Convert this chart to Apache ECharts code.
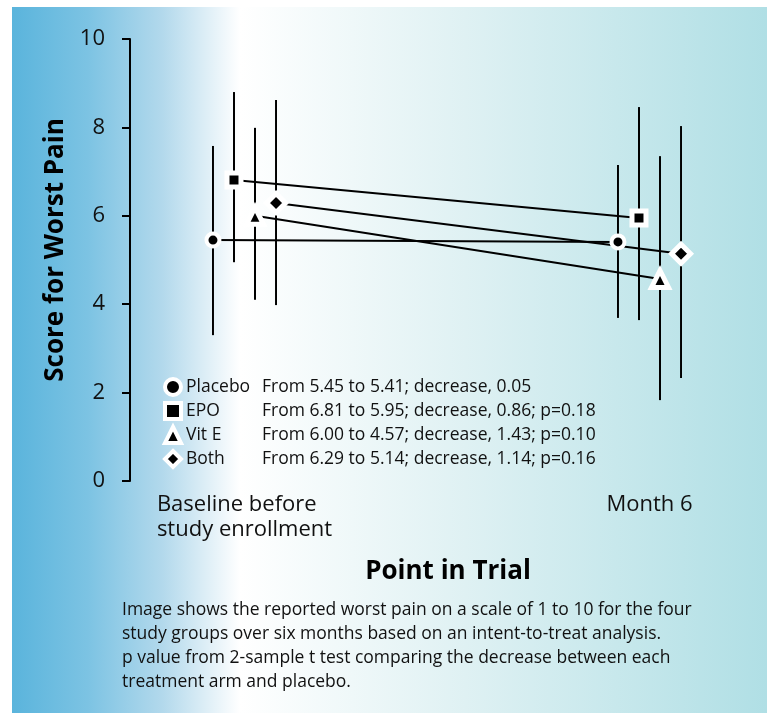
<!DOCTYPE html>
<html>
<head>
<meta charset="utf-8">
<script src="https://cdn.jsdelivr.net/npm/echarts@6/dist/echarts.min.js"></script>
<style>
html,body{margin:0;padding:0;background:#fff;}
#chart{width:767px;height:713px;}
</style>
</head>
<body>
<div id="chart"></div>
<script>
// ---- data ----
const groups = ['Placebo', 'EPO', 'Vit E', 'Both'];
const groupSymbols = ['circle', 'rect', 'triangle', 'diamond'];
const timepoints = ['Baseline before\nstudy enrollment', 'Month 6'];
const baselineMean = [5.45, 6.81, 6.00, 6.29];
const month6Mean = [5.41, 5.95, 4.57, 5.14];
const baselineLow = [3.30, 4.95, 4.10, 3.98];
const baselineHigh = [7.58, 8.80, 7.99, 8.62];
const month6Low = [3.69, 3.64, 1.83, 2.33];
const month6High = [7.15, 8.46, 7.35, 8.03];
const summaries = [
  'From 5.45 to 5.41; decrease, 0.05',
  'From 6.81 to 5.95; decrease, 0.86; p=0.18',
  'From 6.00 to 4.57; decrease, 1.43; p=0.10',
  'From 6.29 to 5.14; decrease, 1.14; p=0.16'
];
const yTicks = [0, 2, 4, 6, 8, 10];
const caption = [
  'Image shows the reported worst pain on a scale of 1 to 10 for the four',
  'study groups over six months based on an intent-to-treat analysis.',
  'p value from 2-sample t test comparing the decrease between each',
  'treatment arm and placebo.'
];

// ---- layout helpers ----
const FONT = '"Open Sans", "Noto Sans", sans-serif';
const TXT = '#111';
const timeX = [1, 2];
const dodge = 0.0519;
const offsets = [-1.5, -0.5, 0.5, 1.5].map(k => k * dodge);
const symbolSizes = [13, 14, 17, 19];
const borderWidths = [4, 5, 5, 5];

const chart = echarts.init(document.getElementById('chart'), null, {renderer: 'canvas'});

const lineSeries = groups.map((g, i) => ({
  name: g,
  type: 'line',
  z: 3,
  symbol: groupSymbols[i],
  symbolSize: symbolSizes[i],
  symbolKeepAspect: true,
  showAllSymbol: true,
  lineStyle: {color: '#000', width: 2},
  itemStyle: {color: '#000', borderColor: '#fff', borderWidth: borderWidths[i]},
  emphasis: {disabled: true},
  data: [
    [timeX[0] + offsets[i], baselineMean[i]],
    [timeX[1] + offsets[i], month6Mean[i]]
  ]
}));

const errData = [];
groups.forEach((g, i) => {
  errData.push([timeX[0] + offsets[i], baselineLow[i], baselineHigh[i]]);
  errData.push([timeX[1] + offsets[i], month6Low[i], month6High[i]]);
});

const errorSeries = {
  type: 'custom',
  z: 1,
  silent: true,
  data: errData,
  encode: {x: 0, y: [1, 2]},
  renderItem: function (params, api) {
    const x = api.value(0);
    const p1 = api.coord([x, api.value(1)]);
    const p2 = api.coord([x, api.value(2)]);
    return {
      type: 'line',
      shape: {x1: p1[0], y1: p1[1], x2: p2[0], y2: p2[1]},
      style: {stroke: '#000', lineWidth: 2}
    };
  }
};

const option = {
  animation: false,
  graphic: [
    {
      type: 'rect', z: -100, silent: true,
      shape: {x: 12, y: 7, width: 755, height: 706},
      style: {
        fill: new echarts.graphic.LinearGradient(0, 0, 1, 0, [
          {offset: 0, color: '#5ab4dc'},
          {offset: 0.10, color: '#7cc3e3'},
          {offset: 0.20, color: '#b3d9ec'},
          {offset: 0.302, color: '#ffffff'},
          {offset: 0.60, color: '#dff1f3'},
          {offset: 1, color: '#b0dfe5'}
        ])
      }
    },
    {
      type: 'text', left: 122, top: 598, silent: true,
      style: {
        text: caption.join('\n'),
        font: '17.5px ' + FONT,
        lineHeight: 24,
        fill: TXT
      }
    }
  ],
  grid: {left: 130, right: 1, top: 39, bottom: 232, containLabel: false},
  xAxis: {
    type: 'value',
    min: 1 - (244.5 - 130) / 405,
    max: 2 + (766 - 649.5) / 405,
    splitLine: {show: false},
    axisLine: {show: false},
    axisTick: {show: false},
    name: 'Point in Trial',
    nameLocation: 'middle',
    nameGap: 78,
    nameTextStyle: {fontFamily: FONT, fontWeight: 'bold', fontSize: 26, color: '#000'},
    axisLabel: {
      customValues: timeX,
      margin: 11,
      color: TXT,
      fontFamily: FONT,
      fontSize: 22,
      lineHeight: 25,
      verticalAlign: 'top',
      formatter: function (v) {
        const idx = timeX.indexOf(Math.round(v));
        if (idx < 0) return '';
        return timepoints[idx].split('\n').map(s => '{l|' + s + '}').join('\n');
      },
      rich: {l: {align: 'left', fontFamily: FONT, fontSize: 22, lineHeight: 25, color: TXT}}
    }
  },
  yAxis: {
    type: 'value',
    min: 0, max: 10, interval: 2,
    splitLine: {show: false},
    axisLine: {show: true, lineStyle: {color: '#000', width: 2}},
    axisTick: {show: true, length: 8, lineStyle: {color: '#000', width: 2}},
    axisLabel: {
      margin: 25, color: TXT, fontFamily: FONT, fontSize: 22,
      formatter: v => yTicks.includes(v) ? String(v) : ''
    },
    name: 'Score for Worst Pain',
    nameLocation: 'middle',
    nameGap: 55,
    nameTextStyle: {fontFamily: FONT, fontWeight: 'bold', fontSize: 26, color: '#000', padding: [0, 0, 0, 20]}
  },
  legend: {
    orient: 'vertical',
    left: 158, top: 372,
    itemWidth: 16, itemHeight: 16, itemGap: 4,
    selectedMode: false,
    data: groups.map((g, i) => ({name: g, icon: groupSymbols[i]})),
    lineStyle: {width: 0},
    itemStyle: {borderColor: '#fff', borderWidth: 4},
    formatter: function (name) {
      const i = groups.indexOf(name);
      return '{n|' + name + '}{d|' + summaries[i] + '}';
    },
    textStyle: {
      fontFamily: FONT, fontSize: 17.5, color: TXT, lineHeight: 20,
      rich: {
        n: {width: 76, fontFamily: FONT, fontSize: 17.5, lineHeight: 20, color: TXT},
        d: {fontFamily: FONT, fontSize: 17.5, lineHeight: 20, color: TXT}
      }
    }
  },
  series: [errorSeries].concat(lineSeries)
};

chart.setOption(option);
</script>
</body>
</html>
